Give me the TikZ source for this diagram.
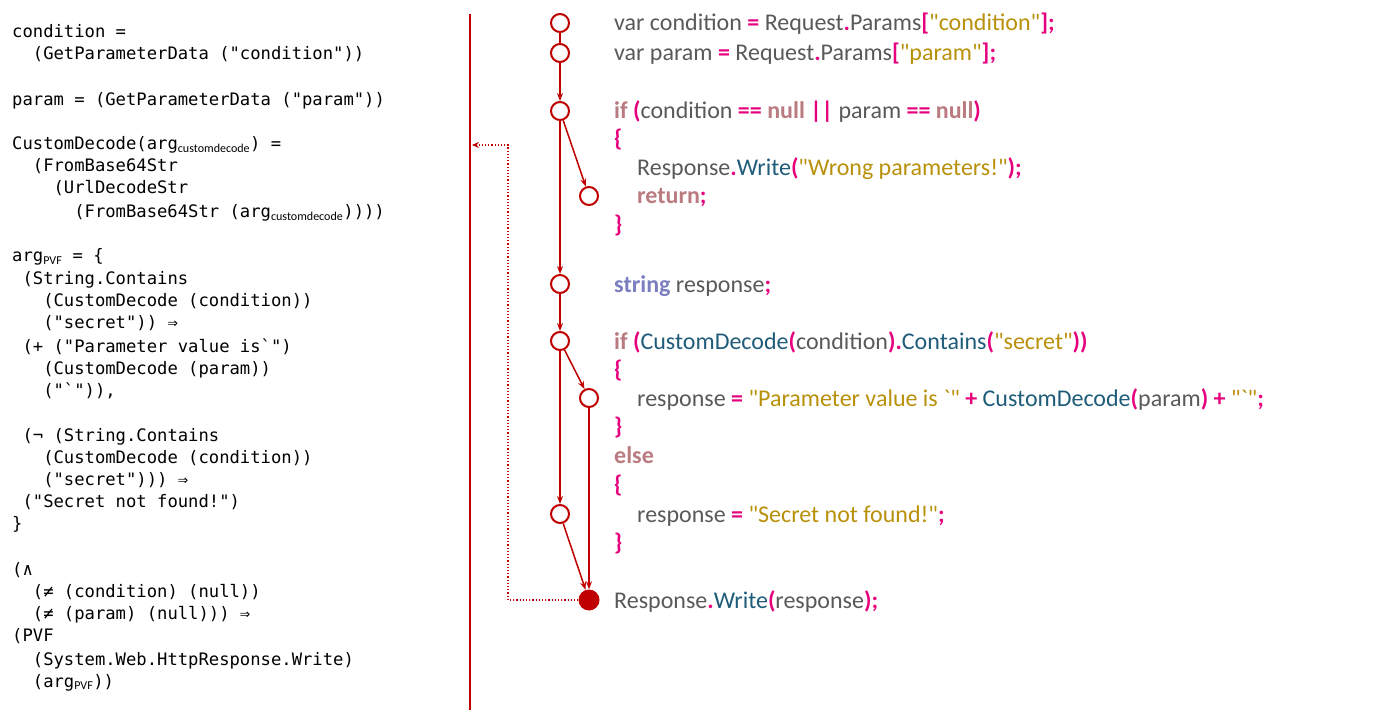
\documentclass[tikz,border=0pt]{standalone}
\usepackage{fontspec}
\newfontfamily\mono{DejaVu Sans Mono}
\newfontfamily\calfont{Carlito}
\usetikzlibrary{arrows.meta}
\definecolor{dred}{HTML}{C00000}
\definecolor{kwc}{HTML}{B97A80}
\definecolor{puc}{HTML}{E6007E}
\definecolor{stc}{HTML}{B8900A}
\definecolor{fnc}{HTML}{1F5C7A}
\definecolor{idc}{HTML}{595959}
\definecolor{tyc}{HTML}{7B7FBF}
\newcommand\KW[1]{{\color{kwc}\bfseries#1}}
\newcommand\PU[1]{{\color{puc}\bfseries#1}}
\newcommand\ST[1]{{\color{stc}#1}}
\newcommand\FN[1]{{\color{fnc}#1}}
\newcommand\TY[1]{{\color{tyc}\bfseries#1}}
\newcommand\sbs[1]{\textsubscript{\calfont #1}}
\begin{document}
\begin{tikzpicture}[x=1pt,y=-1pt,
  L/.style={anchor=base west,inner sep=0pt,font=\mono\fontsize{17.2}{20}\selectfont},
  R/.style={anchor=base west,inner sep=0pt,font=\calfont\fontsize{24}{27}\selectfont,text=idc},
  c/.style={circle,draw=dred,line width=2pt,fill=white,minimum size=18pt,inner sep=0pt},
  f/.style={circle,fill=dred,minimum size=21pt,inner sep=0pt},
  e/.style={dred,line width=1.5pt,-{Stealth[length=8pt,width=6pt]}}]
\useasboundingbox (0,0) rectangle (1373,719);
\draw[dred,line width=1.5pt] (470,14) -- (470,710);
% left code
\def\w{10.35}
\node[L] at (12,38) {condition =};
\node[L] at (12+2*\w,60) {(GetParameterData ("condition"))};
\node[L] at (12,106) {param = (GetParameterData ("param"))};
\node[L] at (12,150) {CustomDecode(arg\sbs{customdecode}) =};
\node[L] at (12+2*\w,172) {(FromBase64Str};
\node[L] at (12+4*\w,194) {(UrlDecodeStr};
\node[L] at (12+6*\w,218) {(FromBase64Str (arg\sbs{customdecode}))))};
\node[L] at (12,262) {arg\sbs{PVF} = \{};
\node[L] at (12+\w,284) {(String.Contains};
\node[L] at (12+3*\w,306) {(CustomDecode (condition))};
\node[L] at (12+3*\w,328) {("secret")) ⇒};
\node[L] at (12+\w,352) {(+ ("Parameter value is`")};
\node[L] at (12+3*\w,374) {(CustomDecode (param))};
\node[L] at (12+3*\w,396) {("`")),};
\node[L] at (12+\w,441) {(¬ (String.Contains};
\node[L] at (12+3*\w,463) {(CustomDecode (condition))};
\node[L] at (12+3*\w,485) {("secret"))) ⇒};
\node[L] at (12+\w,507) {("Secret not found!")};
\node[L] at (12,529) {\}};
\node[L] at (12,575) {(∧};
\node[L] at (12+2*\w,597) {(≠ (condition) (null))};
\node[L] at (12+2*\w,619) {(≠ (param) (null))) ⇒};
\node[L] at (12,641) {(PVF};
\node[L] at (12+2*\w,665) {(System.Web.HttpResponse.Write)};
\node[L] at (12+2*\w,687) {(arg\sbs{PVF}))};
% right code
\node[R] at (614,31) {var condition \PU{=} Request\PU{.}Params\PU{[}\ST{"condition"}\PU{];}};
\node[R] at (614,61) {var param \PU{=} Request\PU{.}Params\PU{[}\ST{"param"}\PU{];}};
\node[R] at (614,119) {\KW{if} \PU{(}condition \PU{==} \KW{null} \PU{||} param \PU{==} \KW{null}\PU{)}};
\node[R] at (614,147) {\PU{\{}};
\node[R] at (637,176) {Response\PU{.}\FN{Write}\PU{(}\ST{"Wrong parameters!"}\PU{);}};
\node[R] at (637,204) {\KW{return}\PU{;}};
\node[R] at (614,233) {\PU{\}}};
\node[R] at (614,292) {\TY{string} response\PU{;}};
\node[R] at (614,349) {\KW{if} \PU{(}\FN{CustomDecode}\PU{(}condition\PU{).}\FN{Contains}\PU{(}\ST{"secret"}\PU{))}};
\node[R] at (614,377) {\PU{\{}};
\node[R] at (637,406) {response \PU{=} \ST{"Parameter value is \string`"} \PU{+} \FN{CustomDecode}\PU{(}param\PU{)} \PU{+} \ST{"\string`"}\PU{;}};
\node[R] at (614,434) {\PU{\}}};
\node[R] at (614,463) {\KW{else}};
\node[R] at (614,492) {\PU{\{}};
\node[R] at (637,522) {response \PU{=} \ST{"Secret not found!"}\PU{;}};
\node[R] at (614,550) {\PU{\}}};
\node[R] at (614,608) {Response\PU{.}\FN{Write}\PU{(}response\PU{);}};
% graph
\node[c] (n1) at (560,23) {};
\node[c] (n2) at (560,53) {};
\node[c] (n3) at (560,111) {};
\node[c] (n4) at (589,196) {};
\node[c] (n5) at (560,284) {};
\node[c] (n6) at (560,341) {};
\node[c] (n7) at (589,398) {};
\node[c] (n8) at (560,514) {};
\node[f] (n9) at (589,600) {};
\draw[dred,line width=1.5pt] (n1) -- (n2);
\draw[e] (n2) -- (n3);
\draw[e] (n3) -- (n4);
\draw[e] (n3) -- (n5);
\draw[e] (n5) -- (n6);
\draw[e] (n6) -- (n7);
\draw[e] (n6) -- (n8);
\draw[e] (n7) -- (n9);
\draw[e] (n8) -- (n9);
\coordinate (t) at (472,145);
\draw[dred,line width=1.2pt,dotted,-{Stealth[length=7pt,width=6pt]}] (n9.west) -- (508,600) -- (508,145) -- (t);
\end{tikzpicture}
\end{document}
